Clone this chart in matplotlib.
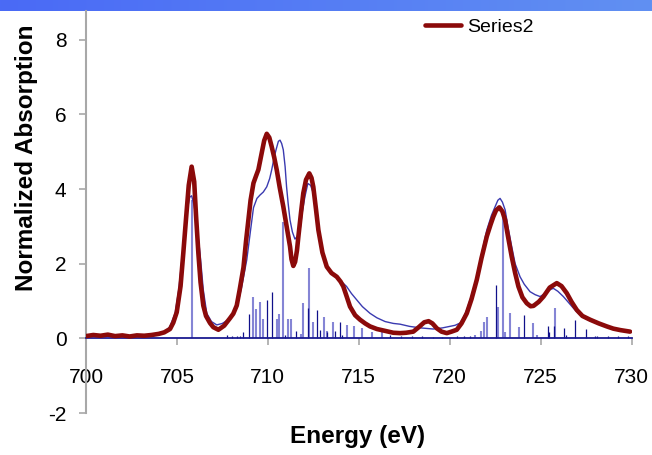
import numpy as np
import matplotlib
matplotlib.use("Agg")
import matplotlib.pyplot as plt
from matplotlib.colors import LinearSegmentedColormap

# experimental spectrum (Series2)
exp_e = [700.0, 700.4, 700.8, 701.2, 701.6, 702.0, 702.4, 702.8, 703.2, 703.6, 704.0, 704.3,
         704.62, 704.8, 704.99, 705.2, 705.35, 705.5, 705.65, 705.81, 705.95, 706.05, 706.18,
         706.3, 706.45, 706.6, 706.82, 707.0, 707.28, 707.6, 707.92, 708.1, 708.29, 708.45,
         708.66, 708.8, 708.93, 709.05, 709.21, 709.35, 709.48, 709.66, 709.8, 709.94, 710.08,
         710.21, 710.35, 710.49, 710.65, 710.85, 711.05, 711.22, 711.3, 711.4, 711.5, 711.6, 711.68,
         711.82, 711.95, 712.1, 712.28, 712.4, 712.5, 712.65, 712.78, 713.0, 713.24, 713.5,
         713.79, 714.0, 714.15, 714.35, 714.52, 714.8, 715.07, 715.35, 715.62, 716.0, 716.45,
         716.9, 717.27, 717.6, 718.0, 718.3, 718.6, 718.84, 719.05, 719.29, 719.55, 719.84,
         720.1, 720.39, 720.65, 720.94, 721.2, 721.49, 721.75, 722.04, 722.25, 722.4, 722.55,
         722.73, 722.9, 723.05, 723.2, 723.41, 723.6, 723.78, 724.0, 724.24, 724.45, 724.61,
         724.9, 725.16, 725.5, 725.89, 726.15, 726.44, 726.7, 726.99, 727.3, 727.72, 728.2,
         728.64, 729.0, 729.4, 729.92]
exp_mu = [0.06, 0.09, 0.07, 0.10, 0.06, 0.08, 0.05, 0.08, 0.07, 0.09, 0.12, 0.16,
          0.25, 0.42, 0.70, 1.40, 2.28, 3.20, 4.10, 4.60, 4.20, 3.30, 2.28,
          1.50, 0.88, 0.60, 0.41, 0.30, 0.23, 0.34, 0.54, 0.66, 0.88, 1.30,
          1.90, 2.60, 3.17, 3.70, 4.16, 4.35, 4.52, 4.96, 5.30, 5.48, 5.38,
          5.14, 4.85, 4.51, 4.05, 3.53, 2.95, 2.46, 2.12, 1.94, 2.05, 2.35, 2.73,
          3.35, 3.89, 4.25, 4.42, 4.30, 4.06, 3.45, 2.90, 2.30, 1.92, 1.75,
          1.65, 1.52, 1.39, 1.10, 0.85, 0.62, 0.50, 0.40, 0.32, 0.25, 0.20,
          0.15, 0.14, 0.15, 0.18, 0.30, 0.43, 0.46, 0.40, 0.27, 0.18, 0.14,
          0.18, 0.23, 0.40, 0.67, 1.05, 1.57, 2.15, 2.73, 3.05, 3.26, 3.43,
          3.51, 3.40, 3.17, 2.75, 2.19, 1.75, 1.39, 1.10, 0.94, 0.86, 0.87,
          0.98, 1.12, 1.36, 1.48, 1.40, 1.21, 0.98, 0.76, 0.60, 0.50, 0.40,
          0.32, 0.26, 0.22, 0.18]

# calculated (broadened) spectrum
calc_e = [700.0, 701.0, 702.0, 703.0, 703.5, 704.0, 704.3, 704.6, 704.9, 705.1, 705.35, 705.55,
          705.7, 705.81, 705.95, 706.1, 706.27, 706.45, 706.64, 706.9, 707.19, 707.5, 707.83,
          708.05, 708.29, 708.55, 708.84, 709.05, 709.21, 709.4, 709.57, 709.75, 709.94, 710.1,
          710.21, 710.35, 710.45, 710.58, 710.67, 710.76, 710.85, 710.95, 711.03, 711.12, 711.22,
          711.35, 711.49, 711.62, 711.77, 711.9, 712.04, 712.2, 712.35, 712.5, 712.65, 712.78,
          713.0, 713.24, 713.5, 713.79, 714.05, 714.33, 714.6, 714.89, 715.2, 715.62, 716.0,
          716.45, 716.9, 717.27, 717.8, 718.4, 719.1, 719.6, 720.0, 720.3, 720.57, 720.75,
          720.94, 721.2, 721.49, 721.75, 722.04, 722.3, 722.5, 722.65, 722.77, 722.9, 723.05,
          723.2, 723.41, 723.6, 723.87, 724.1, 724.42, 724.7, 724.97, 725.3, 725.5, 725.7,
          725.95, 726.25, 726.5, 726.8, 727.1, 727.5, 728.0, 728.6, 729.2, 729.9]
calc_mu = [0.02, 0.02, 0.02, 0.03, 0.05, 0.10, 0.17, 0.30, 0.67, 1.30, 2.46, 3.40,
           3.78, 3.82, 3.55, 3.00, 2.28, 1.30, 0.67, 0.45, 0.36, 0.40, 0.50,
           0.62, 0.81, 1.35, 2.10, 2.90, 3.50, 3.75, 3.84, 3.92, 4.06, 4.28,
           4.51, 4.85, 5.05, 5.28, 5.31, 5.22, 5.05, 4.60, 4.06, 3.60, 3.17,
           2.85, 2.66, 2.73, 2.90, 3.40, 3.80, 4.15, 4.10, 3.89, 3.40, 2.90,
           2.30, 1.92, 1.75, 1.65, 1.52, 1.39, 1.20, 1.03, 0.85, 0.67, 0.55,
           0.45, 0.40, 0.38, 0.32, 0.28, 0.25, 0.28, 0.32, 0.35, 0.41, 0.55,
           0.76, 1.15, 1.65, 2.25, 2.90, 3.30, 3.53, 3.70, 3.75, 3.65, 3.44,
           3.00, 2.46, 2.00, 1.65, 1.45, 1.25, 1.17, 1.12, 1.22, 1.30, 1.34,
           1.26, 1.12, 0.98, 0.81, 0.66, 0.52, 0.42, 0.32, 0.24, 0.18]

# transition sticks (two shades as seen)
stick_light_e = [705.81, 709.20, 709.33, 709.57, 709.75, 710.53, 710.63, 710.82, 711.09, 711.28,
                 711.81, 711.93, 712.28, 712.46, 713.09, 713.26, 713.56, 714.38, 714.74, 715.18,
                 715.71, 716.26, 721.40, 721.71, 721.90, 722.04, 722.65, 722.92, 723.05, 723.34,
                 723.80, 724.60, 724.79, 725.80]
stick_light_h = [3.70, 1.12, 0.79, 0.97, 0.52, 0.53, 0.65, 3.13, 0.51, 0.51,
                 0.12, 0.94, 1.88, 0.43, 0.57, 0.20, 0.44, 0.35, 0.33, 0.27,
                 0.18, 0.16, 0.10, 0.20, 0.43, 0.58, 0.85, 3.38, 0.18, 0.67,
                 0.30, 0.41, 0.10, 0.81]
stick_dark_e = [707.74, 708.01, 708.29, 708.47, 708.62, 708.95, 709.97, 710.25, 710.92, 711.53,
                712.23, 712.69, 712.87, 713.24, 713.67, 713.97, 714.08, 716.72, 717.31, 717.92,
                718.47, 719.10, 719.57, 720.39, 720.79, 721.12, 722.54, 724.09, 725.38, 725.47,
                725.74, 726.31, 726.42, 726.91, 727.49, 727.99, 728.09, 728.68, 729.28, 729.81]
stick_dark_h = [0.09, 0.05, 0.06, 0.05, 0.16, 0.66, 1.02, 1.23, 0.10, 0.20,
                0.81, 0.76, 0.22, 0.18, 0.20, 0.43, 0.10, 0.10, 0.07, 0.05,
                0.05, 0.04, 0.04, 0.05, 0.07, 0.07, 1.44, 0.63, 0.33, 0.18,
                0.33, 0.27, 0.10, 0.48, 0.24, 0.05, 0.07, 0.07, 0.07, 0.05]

xticks = [700, 705, 710, 715, 720, 725, 730]
yticks = [-2, 0, 2, 4, 6, 8]

plt.rcParams['font.family'] = ['Liberation Sans', 'DejaVu Sans']
plt.rcParams['axes.unicode_minus'] = False

fig = plt.figure(figsize=(6.52, 4.55), dpi=100)

# blue title bar strip at top of the slide
bar = fig.add_axes([0, 0.9758, 1, 0.0242])
grad = np.linspace(0, 1, 256).reshape(1, -1)
cmap = LinearSegmentedColormap.from_list("bar", ["#4a6af6", "#6190f2"])
bar.imshow(grad, aspect="auto", cmap=cmap)
bar.axis("off")

ax = fig.add_axes([0.1319, 0.0923, 0.8367, 0.8835])
ax.vlines(stick_light_e, 0, stick_light_h, color="#8585d5", lw=1.5, zorder=2)
ax.vlines(stick_dark_e, 0, stick_dark_h, color="#10108a", lw=0.9, zorder=2)
ax.plot(calc_e, calc_mu, color="#3a3ab0", lw=1.0, zorder=3)
ax.plot(exp_e, exp_mu, color="#8b0a0a", lw=3.3, zorder=4, label="Series2",
        solid_joinstyle="round", solid_capstyle="round")

ax.set_xlim(700, 730)
ax.set_ylim(-2, 8.77)
ax.set_xticks(xticks)
ax.set_yticks(yticks)

for s in ["top", "right"]:
    ax.spines[s].set_visible(False)
ax.spines["bottom"].set_position(("data", 0))
ax.spines["bottom"].set_color("#1a1a90")
ax.spines["bottom"].set_linewidth(1.3)
ax.spines["left"].set_color("#a8a8a8")
ax.spines["left"].set_linewidth(1.5)
ax.tick_params(axis="x", direction="out", length=5, width=1.2, color="#a8a8a8",
               labelsize=15, pad=16)
ax.tick_params(axis="y", direction="out", length=5, width=1.2, color="#a8a8a8",
               labelsize=15, pad=9)

fig.text(27 / 652, 1 - 158 / 455, "Normalized Absorption", rotation=90,
         ha="center", va="center", fontsize=17.5, fontweight="bold")
fig.text(358 / 652, 1 - 437 / 455, "Energy (eV)", ha="center", va="center",
         fontsize=17.5, fontweight="bold")

ax.legend(loc="center left", bbox_to_anchor=(425 / 652, 1 - 27 / 455),
          bbox_transform=fig.transFigure, frameon=False, fontsize=14,
          handlelength=1.85, handletextpad=0.3, borderpad=0, borderaxespad=0)

fig.savefig("out.png", dpi=100)
